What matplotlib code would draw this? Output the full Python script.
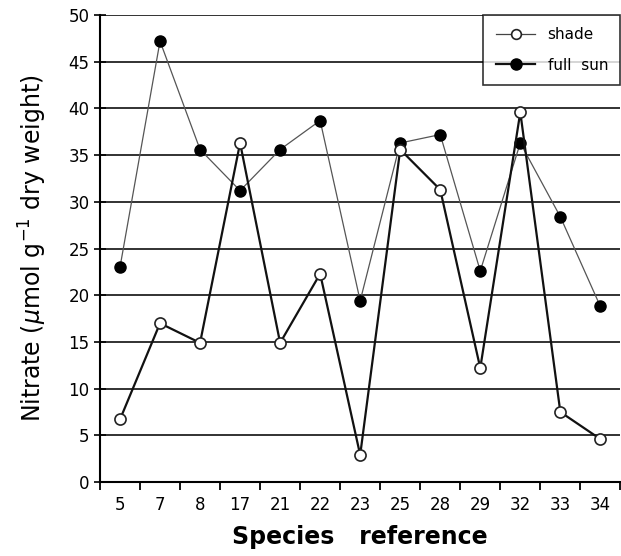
import numpy as np
import matplotlib.pyplot as plt
from matplotlib.lines import Line2D

#### DATA ####
species = ['5', '7', '8', '17', '21', '22', '23', '25', '28', '29', '32', '33', '34']
shade = [6.7, 17.0, 14.9, 36.3, 14.9, 22.3, 2.9, 35.6, 31.3, 12.2, 39.6, 7.5, 4.6]
full_sun = [23.0, 47.2, 35.6, 31.2, 35.6, 38.7, 19.4, 36.3, 37.2, 22.6, 36.3, 28.4, 18.8]

plt.rcParams['font.family'] = ['DejaVu Sans']

fig = plt.figure(figsize=(6.21, 5.56), dpi=100)
ax = fig.add_axes([0.161, 0.133, 0.838, 0.84])

x = np.arange(len(species))

# horizontal grid every 5 units
for yv in range(5, 51, 5):
    ax.axhline(yv, color='#222222', lw=1.3, zorder=1)

# shade drawn with the heavier line, full sun with the light one
ax.plot(x, full_sun, '-', color='#555555', lw=0.9, marker='o', ms=8,
        mfc='black', mec='black', zorder=3)
ax.plot(x, shade, '-', color='#111111', lw=1.6, marker='o', ms=8,
        mfc='white', mec='#222222', mew=1.2, zorder=4)

ax.set_xlim(-0.5, len(species) - 0.5)
ax.set_ylim(0, 50)

# category ticks sit on the boundaries, labels in the middle
ax.set_xticks(np.arange(len(species) + 1) - 0.5)
ax.set_xticklabels([])
ax.set_xticks(x, minor=True)
ax.set_xticklabels(species, minor=True, fontsize=12)
ax.tick_params(axis='x', which='major', direction='out', length=6, width=1.3)
ax.tick_params(axis='x', which='minor', length=0, pad=10)

ax.set_yticks(range(0, 51, 5))
ax.tick_params(axis='y', direction='inout', length=9, width=1.2, labelsize=12, pad=3)

for s in ['top', 'right']:
    ax.spines[s].set_visible(False)
for s in ['left', 'bottom']:
    ax.spines[s].set_linewidth(1.5)

ax.set_xlabel('Species   reference', fontsize=17, fontweight='bold', labelpad=8)
ax.set_ylabel(r'Nitrate ($\mu$mol g$^{-1}$ dry weight)', fontsize=17, labelpad=14)

# the legend keys in the original swap the line weights
handles = [
    Line2D([], [], color='#444444', lw=0.9, marker='o', ms=7,
           mfc='white', mec='#222222', mew=1.2),
    Line2D([], [], color='#111111', lw=1.6, marker='o', ms=8,
           mfc='black', mec='black'),
]
leg = ax.legend(handles, ['shade', 'full  sun'], loc='upper right',
                bbox_to_anchor=(1.0, 1.0), fontsize=11, frameon=True,
                fancybox=False, edgecolor='black', borderaxespad=0,
                handlelength=2.6, labelspacing=1.0, borderpad=0.8)
leg.get_frame().set_linewidth(1.2)

fig.savefig('out.png', dpi=100)
